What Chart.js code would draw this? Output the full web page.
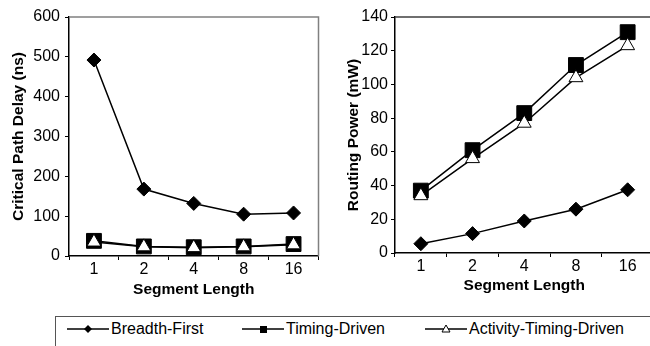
<!DOCTYPE html>
<html lang="en">
<head>
  <meta charset="UTF-8" />
  <title>Segment Length – Delay and Power</title>
  <script src="https://cdn.jsdelivr.net/npm/chart.js"></script>
  <style>
    body {
      margin: 0;
      width: 650px;
      height: 346px;
      overflow: hidden;
      background: #fff;
      font-family: 'Liberation Sans', Arial, sans-serif;
      position: relative;
    }
    #delayChart { position: absolute; left: 0; top: 0; }
    #powerChart { position: absolute; left: 330px; top: 0; }
    .legend {
      position: absolute;
      left: 55px;
      top: 316px;
      width: 640px;
      height: 40px;
      border-top: 1px solid #555;
      border-left: 1px solid #555;
    }
    .item {
      position: absolute;
      top: 3px;
      font-size: 16px;
      color: #000;
      display: flex;
      align-items: center;
      white-space: nowrap;
    }
    .item svg { margin-right: 2px; }
  </style>
</head>
<body>
  <canvas id="delayChart" width="330" height="300"></canvas>
  <canvas id="powerChart" width="335" height="300"></canvas>

  <div class="legend">
    <div class="item" style="left: 11px;">
      <svg width="42" height="14"><line x1="0" y1="7" x2="42" y2="7" stroke="#000" stroke-width="1.5"/><polygon points="21,3 25,7 21,11 17,7" fill="#000"/></svg>Breadth-First
    </div>
    <div class="item" style="left: 186px;">
      <svg width="42" height="14"><line x1="0" y1="7" x2="42" y2="7" stroke="#000" stroke-width="1.5"/><rect x="18" y="4" width="7" height="7" fill="#000"/></svg>Timing-Driven
    </div>
    <div class="item" style="left: 369px;">
      <svg width="42" height="14"><line x1="0" y1="7" x2="42" y2="7" stroke="#000" stroke-width="1.5"/><polygon points="21,3 25,10 17,10" fill="#fff" stroke="#000" stroke-width="1"/></svg>Activity-Timing-Driven
    </div>
  </div>

  <script>
    // x categories
    const segmentLengths = ['1', '2', '4', '8', '16'];

    // critical path delay (ns)
    const delayBreadthFirst = [492, 168, 132, 105, 108];
    const delayTimingDriven = [38, 24, 22, 24, 30];
    const delayActivityDriven = [35, 23, 21, 23, 28];
    const delayTicks = [0, 100, 200, 300, 400, 500, 600];

    // routing power (mW)
    const powerBreadthFirst = [5.5, 11.5, 19, 26, 37.5];
    const powerTimingDriven = [37, 61, 83, 111.5, 131];
    const powerActivityDriven = [34, 56, 77, 104, 123];
    const powerTicks = [0, 20, 40, 60, 80, 100, 120, 140];

    const fontFamily = "'Liberation Sans', Arial, sans-serif";

    // gray frame on top and right of the plot area
    const plotFrame = {
      id: 'plotFrame',
      afterDraw(chart, args, opts) {
        const { ctx, chartArea: a } = chart;
        ctx.save();
        ctx.strokeStyle = opts.color;
        ctx.lineWidth = 1.5;
        ctx.beginPath();
        ctx.moveTo(a.left, a.top);
        ctx.lineTo(a.right, a.top);
        ctx.lineTo(a.right, a.bottom);
        ctx.stroke();
        ctx.restore();
      }
    };

    function makeDatasets(bf, td, atd) {
      return [
        {
          label: 'Breadth-First', data: bf, order: 2,
          borderColor: '#000', borderWidth: 1.5,
          pointStyle: 'rectRot', pointRadius: 7,
          pointBackgroundColor: '#000', pointBorderColor: '#000', pointBorderWidth: 1
        },
        {
          label: 'Timing-Driven', data: td, order: 1,
          borderColor: '#000', borderWidth: 1.5,
          pointStyle: 'rect', pointRadius: 10.5,
          pointBackgroundColor: '#000', pointBorderColor: '#000', pointBorderWidth: 1
        },
        {
          label: 'Activity-Timing-Driven', data: atd, order: 0,
          borderColor: '#000', borderWidth: 1.5,
          pointStyle: 'triangle', pointRadius: 8,
          pointBackgroundColor: '#fff', pointBorderColor: '#000', pointBorderWidth: 1
        }
      ];
    }

    function makeChart(id, cfg) {
      return new Chart(document.getElementById(id), {
        type: 'line',
        data: {
          labels: segmentLengths,
          datasets: makeDatasets(cfg.bf, cfg.td, cfg.atd)
        },
        options: {
          responsive: false,
          animation: false,
          devicePixelRatio: 1,
          layout: { padding: { top: 17, right: 2, left: 0, bottom: 0 } },
          plugins: {
            legend: { display: false },
            tooltip: { enabled: false },
            plotFrame: { color: cfg.frameColor }
          },
          scales: {
            x: {
              offset: true,
              afterFit(s) { s.height = cfg.xHeight; },
              grid: { offset: true, drawOnChartArea: false, tickLength: 4, color: '#000', lineWidth: 1 },
              border: { color: '#000', width: 1.5 },
              ticks: { color: '#000', padding: 0, font: { family: fontFamily, size: 16 } },
              title: {
                display: true, text: 'Segment Length', color: '#000',
                padding: { top: 0, bottom: cfg.xTitlePad },
                font: { family: fontFamily, size: 15.5, weight: 'bold' }
              }
            },
            y: {
              min: cfg.ticks[0],
              max: cfg.ticks[cfg.ticks.length - 1],
              afterFit(s) { s.width = cfg.yWidth; },
              afterBuildTicks(s) { s.ticks = cfg.ticks.map(v => ({ value: v })); },
              grid: { drawOnChartArea: false, tickLength: 4, color: '#000', lineWidth: 1 },
              border: { color: '#000', width: 1.5 },
              ticks: { color: '#000', padding: cfg.yTickPad, font: { family: fontFamily, size: 16 } },
              title: {
                display: true, text: cfg.yTitle, color: '#000',
                padding: { top: cfg.yTitlePad, bottom: 0 },
                font: { family: fontFamily, size: 15.5, weight: 'bold' }
              }
            }
          }
        },
        plugins: [plotFrame]
      });
    }

    makeChart('delayChart', {
      bf: delayBreadthFirst, td: delayTimingDriven, atd: delayActivityDriven,
      ticks: delayTicks, yTitle: 'Critical Path Delay (ns)',
      yWidth: 69, xHeight: 44, yTickPad: 5, yTitlePad: 9, xTitlePad: 1,
      frameColor: '#808080'
    });

    makeChart('powerChart', {
      bf: powerBreadthFirst, td: powerTimingDriven, atd: powerActivityDriven,
      ticks: powerTicks, yTitle: 'Routing Power (mW)',
      yWidth: 65, xHeight: 47, yTickPad: 3, yTitlePad: 14, xTitlePad: 5,
      frameColor: '#404040'
    });
  </script>
</body>
</html>
